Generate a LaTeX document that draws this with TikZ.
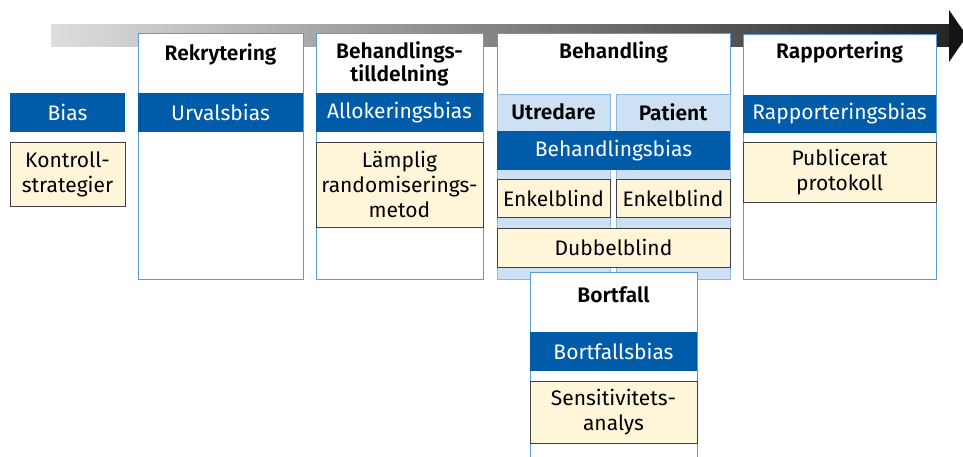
\documentclass[tikz,border=0pt]{standalone}
\usepackage{fontspec}
\setmainfont{Fira Sans}
\newfontfamily\semib{Fira Sans SemiBold}
\definecolor{bandblue}{HTML}{005CA9}
\definecolor{frameblue}{HTML}{5B9BD5}
\definecolor{panelblue}{HTML}{CEE0F4}
\definecolor{paleyellow}{HTML}{FFF6DA}
\begin{document}
\begin{tikzpicture}[x=1pt,y=-1pt,
  every node/.style={font=\fontsize{21}{25}\selectfont, inner sep=0pt, outer sep=0pt, anchor=north west},
  frame/.style={draw=frameblue, line width=0.9pt, fill=white},
  panel/.style={draw=frameblue!70, line width=0.8pt, fill=panelblue},
  band/.style={fill=bandblue, text=white},
  ybox/.style={draw=black!75, line width=0.8pt, fill=paleyellow, align=center},
  ttl/.style={anchor=center, align=center, font=\fontsize{21}{23}\selectfont\semib},
  sub/.style={anchor=center, font=\fontsize{21}{25}\selectfont\semib}]
\useasboundingbox (0,0) rectangle (963,457);
% timeline arrow
\shade[left color=black!13, right color=black!85] (51,25) rectangle (950,47);
\fill[black!92] (949,10) -- (967,36) -- (949,62) -- cycle;
% Bias column
\node[band, minimum width=115pt, minimum height=39pt] (bias) at (10,93) {};
\node[anchor=center, text=white] (biast) at (bias.center) {Bias};
\node[ybox, minimum width=115pt, minimum height=64pt] (kontroll) at (10,142) {};
\node[anchor=center, align=center] (kontrollt) at (kontroll.center) {Kontroll-\\strategier};
% Rekrytering
\node[frame, minimum width=165pt, minimum height=246pt] (rek) at (138,33) {};
\node[ttl] (rekt) at (220.5,54) {Rekrytering};
\node[band, minimum width=165pt, minimum height=39pt] (urval) at (138,93) {};
\node[anchor=center, text=white] (urvalt) at (urval.center) {Urvalsbias};
% Behandlingstilldelning
\node[frame, minimum width=167pt, minimum height=246pt] (till) at (316,33) {};
\node[ttl] (tillt) at (399.5,64) {Behandlings-\\tilldelning};
\node[band, minimum width=167pt, minimum height=39pt] (allok) at (316,93) {};
\node[anchor=center, text=white] (allokt) at (allok.center) {Allokeringsbias};
\node[ybox, minimum width=167pt, minimum height=85pt] (lamp) at (316,142) {};
\node[anchor=center, align=center] (lampt) at (lamp.center) {Lämplig\\randomiserings-\\metod};
% Behandling
\node[frame, minimum width=233pt, minimum height=246pt] (beh) at (497,33) {};
\node[ttl] (beht) at (613.5,52) {Behandling};
\node[panel, minimum width=113pt, minimum height=185pt] (utr) at (497,94) {};
\node[panel, minimum width=114pt, minimum height=185pt] (pat) at (616,94) {};
\node[sub] (utrt) at (553.5,112) {Utredare};
\node[sub] (patt) at (673,112) {Patient};
\node[band, minimum width=233pt, minimum height=39pt] (behb) at (497,131) {};
\node[anchor=center, text=white] (behbt) at (behb.center) {Behandlingsbias};
\node[ybox, minimum width=113pt, minimum height=38pt] (enk1) at (497,179) {};
\node[anchor=center] (enk1t) at (enk1.center) {Enkelblind};
\node[ybox, minimum width=114pt, minimum height=38pt] (enk2) at (616,179) {};
\node[anchor=center] (enk2t) at (enk2.center) {Enkelblind};
\node[ybox, minimum width=233pt, minimum height=39pt] (dub) at (497,228) {};
\node[anchor=center] (dubt) at (dub.center) {Dubbelblind};
% Rapportering
\node[frame, minimum width=193pt, minimum height=245pt] (rap) at (743,34) {};
\node[ttl] (rapt) at (839.5,52) {Rapportering};
\node[band, minimum width=193pt, minimum height=38pt] (rapb) at (743,95) {};
\node[anchor=center, text=white] (rapbt) at (rapb.center) {Rapporteringsbias};
\node[ybox, minimum width=193pt, minimum height=60pt] (pub) at (743,142) {};
\node[anchor=center, align=center] (pubt) at (pub.center) {Publicerat\\protokoll};
% Bortfall
\node[frame, minimum width=167pt, minimum height=200pt] (bort) at (530,272) {};
\node[ttl] (bortt) at (613.5,295) {Bortfall};
\node[band, minimum width=167pt, minimum height=39pt] (bortb) at (530,332) {};
\node[anchor=center, text=white] (bortbt) at (bortb.center) {Bortfallsbias};
\node[ybox, minimum width=167pt, minimum height=62pt] (sens) at (530,381) {};
\node[anchor=center, align=center] (senst) at (sens.center) {Sensitivitets-\\analys};
\end{tikzpicture}
\end{document}
